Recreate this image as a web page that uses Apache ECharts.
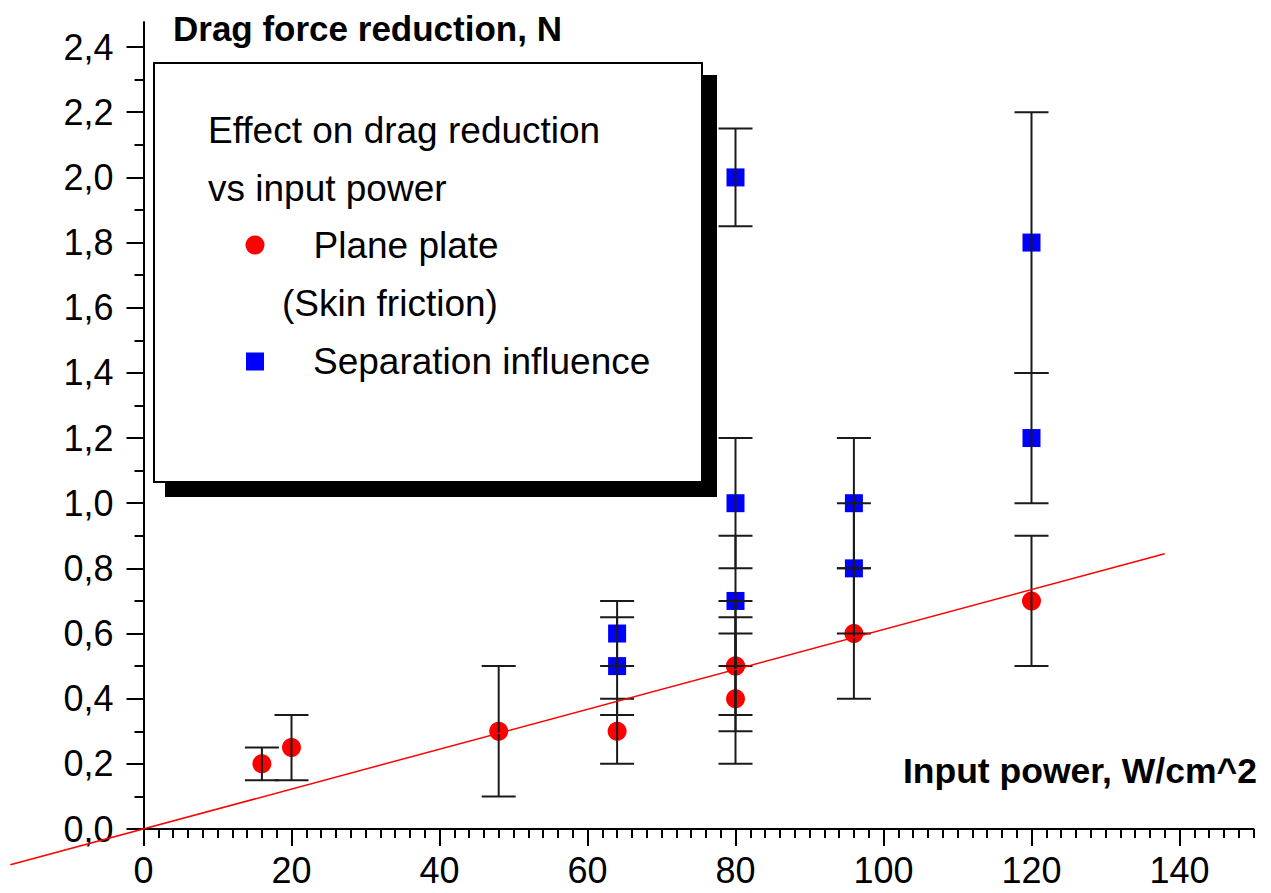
<!DOCTYPE html>
<html>
<head>
<meta charset="utf-8">
<script src="https://cdn.jsdelivr.net/npm/echarts@6/dist/echarts.min.js"></script>
<style>
  html, body { margin: 0; padding: 0; background: #fff; }
  #chart { width: 1271px; height: 893px; }
</style>
</head>
<body>
<div id="chart"></div>
<script>
// Plane plate (skin friction): input power, drag reduction, half-width of error bar
const plateX   = [16, 20, 48, 64, 80, 80, 80, 96, 120];
const plateY   = [0.2, 0.25, 0.3, 0.3, 0.5, 0.5, 0.4, 0.6, 0.7];
const plateErr = [0.05, 0.1, 0.2, 0.1, 0.2, 0.15, 0.2, 0.2, 0.2];

// Separation influence
const sepX   = [64, 64, 80, 80, 80, 96, 96, 120, 120];
const sepY   = [0.5, 0.6, 2.0, 1.0, 0.7, 1.0, 0.8, 1.8, 1.2];
const sepErr = [0.15, 0.1, 0.15, 0.2, 0.2, 0.2, 0.2, 0.4, 0.2];

// Linear fit of the plane plate results (end points)
const fitX = [-18, 138];
const fitY = [-0.11, 0.845];

// Axis ticks
const xMajor = [0, 20, 40, 60, 80, 100, 120, 140];
const yMajor = [0, 0.2, 0.4, 0.6, 0.8, 1.0, 1.2, 1.4, 1.6, 1.8, 2.0, 2.2, 2.4];
const X_MAX = 150;
const Y_MAX = 2.477;

const xMinor = [];
for (let v = 2; v <= X_MAX; v += 2) if (v % 20 !== 0) xMinor.push(v);
const yMinor = [];
for (let k = 1; k < 24; k += 2) yMinor.push(+(k * 0.1).toFixed(1));

const FONT = "'Liberation Sans', Arial, Helvetica, sans-serif";

const toPoints = (xs, ys) => xs.map((x, i) => [x, ys[i]]);
const toBars = (xs, ys, es) => xs.map((x, i) => [x, ys[i] - es[i], ys[i] + es[i]]);

function errorBarItem(params, api) {
  const x = api.value(0);
  const lo = api.coord([x, api.value(1)]);
  const hi = api.coord([x, api.value(2)]);
  const hw = 17;
  const style = { stroke: '#1a1a1a', lineWidth: 2 };
  return {
    type: 'group',
    children: [
      { type: 'line', shape: { x1: hi[0], y1: hi[1], x2: lo[0], y2: lo[1] }, style },
      { type: 'line', shape: { x1: hi[0] - hw, y1: hi[1], x2: hi[0] + hw, y2: hi[1] }, style },
      { type: 'line', shape: { x1: lo[0] - hw, y1: lo[1], x2: lo[0] + hw, y2: lo[1] }, style }
    ]
  };
}

// The fit line runs past the y axis, so it is drawn unclipped
function fitLineItem(params, api) {
  const a = api.coord([api.value(0), api.value(1)]);
  const b = api.coord([api.value(2), api.value(3)]);
  return {
    type: 'line',
    shape: { x1: a[0], y1: a[1], x2: b[0], y2: b[1] },
    style: { stroke: '#ff0000', lineWidth: 1.5 }
  };
}

const axisLine = { show: true, onZero: false, lineStyle: { color: '#000', width: 2 } };
const labelText = { color: '#000', fontSize: 36, fontFamily: FONT };
const legendText = { color: '#000', fontSize: 37, fontFamily: FONT, lineHeight: 37, padding: [0, 0, 0, 44] };

const chart = echarts.init(document.getElementById('chart'), null, { renderer: 'svg' });

chart.setOption({
  animation: false,
  backgroundColor: '#fff',
  grid: { left: 143.5, right: 17.5, top: 22, bottom: 64, containLabel: false },
  xAxis: [
    {
      type: 'value', min: 0, max: X_MAX, position: 'bottom',
      axisLine,
      splitLine: { show: false },
      axisTick: { show: true, inside: false, length: 17, customValues: xMajor, lineStyle: { color: '#000', width: 2 } },
      axisLabel: { show: true, customValues: xMajor, margin: 23, ...labelText }
    },
    {
      type: 'value', min: 0, max: X_MAX, position: 'bottom',
      axisLine: { show: false },
      splitLine: { show: false },
      axisTick: { show: true, inside: false, length: 9, customValues: xMinor, lineStyle: { color: '#000', width: 2 } },
      axisLabel: { show: false }
    }
  ],
  yAxis: [
    {
      type: 'value', min: 0, max: Y_MAX, position: 'left',
      axisLine,
      splitLine: { show: false },
      axisTick: { show: true, inside: false, length: 17, customValues: yMajor, lineStyle: { color: '#000', width: 2 } },
      axisLabel: {
        show: true, customValues: yMajor, margin: 30, ...labelText,
        formatter: v => v.toFixed(1).replace('.', ',')
      }
    },
    {
      type: 'value', min: 0, max: Y_MAX, position: 'left',
      axisLine: { show: false },
      splitLine: { show: false },
      axisTick: { show: true, inside: false, length: 9, customValues: yMinor, lineStyle: { color: '#000', width: 2 } },
      axisLabel: { show: false }
    }
  ],
  legend: [
    {
      z: 100, padding: 0,
      data: [{ name: 'Plane plate', icon: 'circle' }],
      left: 245.5, top: 226.5, orient: 'vertical',
      itemWidth: 19, itemHeight: 19, selectedMode: false,
      textStyle: legendText
    },
    {
      z: 100, padding: 0,
      data: [{ name: 'Separation influence', icon: 'rect' }],
      left: 246, top: 343, orient: 'vertical',
      itemWidth: 18, itemHeight: 18, selectedMode: false,
      textStyle: legendText
    }
  ],
  graphic: [
    // legend frame with its drop shadow
    { type: 'rect', z: 50, shape: { x: 165, y: 75, width: 552, height: 422 }, style: { fill: '#000' } },
    { type: 'rect', z: 51, shape: { x: 154, y: 63, width: 548, height: 419 }, style: { fill: '#fff', stroke: '#000', lineWidth: 2 } },
    { type: 'text', z: 52, x: 208, y: 130, style: { text: 'Effect on drag reduction', fill: '#000', font: `37px ${FONT}`, verticalAlign: 'middle' } },
    { type: 'text', z: 52, x: 208, y: 188, style: { text: 'vs input power', fill: '#000', font: `37px ${FONT}`, verticalAlign: 'middle' } },
    { type: 'text', z: 52, x: 282, y: 303, style: { text: '(Skin friction)', fill: '#000', font: `37px ${FONT}`, verticalAlign: 'middle' } },
    // axis titles
    { type: 'text', z: 52, x: 173, y: 28, style: { text: 'Drag force reduction, N', fill: '#000', font: `bold 35px ${FONT}`, verticalAlign: 'middle' } },
    { type: 'text', z: 52, x: 1257, y: 771, style: { text: 'Input power, W/cm^2', fill: '#000', font: `bold 35.5px ${FONT}`, align: 'right', verticalAlign: 'middle' } }
  ],
  series: [
    {
      name: 'Plane plate', type: 'scatter', z: 2,
      symbol: 'circle', symbolSize: 19,
      itemStyle: { color: '#ff0000', opacity: 1 },
      data: toPoints(plateX, plateY)
    },
    {
      name: 'Separation influence', type: 'scatter', z: 2,
      symbol: 'rect', symbolSize: 18,
      itemStyle: { color: '#0000ff', opacity: 1 },
      data: toPoints(sepX, sepY)
    },
    {
      name: 'plate error', type: 'custom', z: 3,
      renderItem: errorBarItem, encode: { x: 0, y: [1, 2] },
      data: toBars(plateX, plateY, plateErr)
    },
    {
      name: 'separation error', type: 'custom', z: 3,
      renderItem: errorBarItem, encode: { x: 0, y: [1, 2] },
      data: toBars(sepX, sepY, sepErr)
    },
    {
      name: 'fit', type: 'custom', z: 4, clip: false, silent: true,
      renderItem: fitLineItem, encode: { x: [0, 2], y: [1, 3] },
      data: [[fitX[0], fitY[0], fitX[1], fitY[1]]]
    }
  ]
});
</script>
</body>
</html>
